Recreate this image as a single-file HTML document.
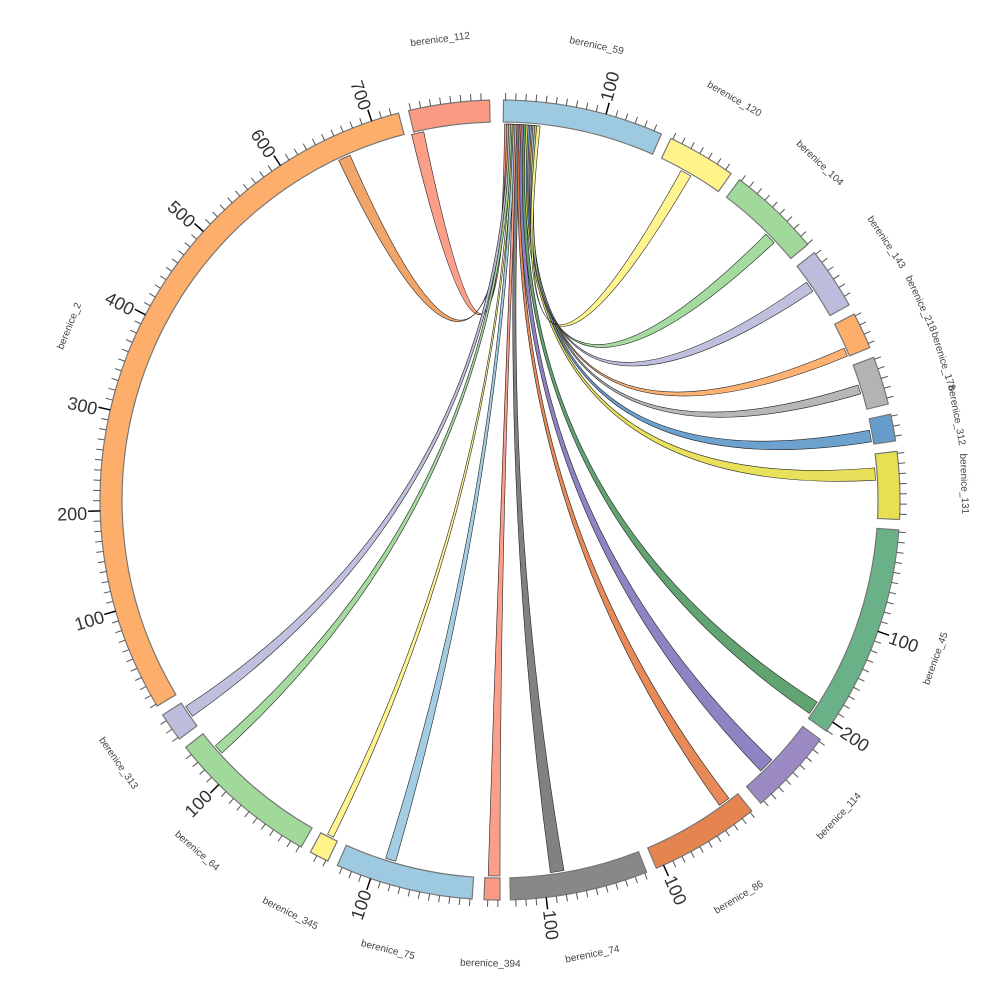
<!DOCTYPE html>
<html><head><meta charset="utf-8"><style>
html,body{margin:0;padding:0;background:#fff;}
svg{display:block;font-family:"Liberation Sans","DejaVu Sans",sans-serif;}
.sl{font-size:10px;fill:#444;text-anchor:middle;dominant-baseline:central;}
.nl{font-size:18px;fill:#333;text-anchor:middle;dominant-baseline:central;}
</style></head><body>
<svg id="s" width="1000" height="1000" viewBox="0 0 1000 1000" xmlns="http://www.w3.org/2000/svg">
<g id="rib"></g><g id="seg"></g><g id="tk"></g>
<g>
<text class="sl" transform="rotate(352.6 500 500) translate(500,36)">berenice_112</text>
<text class="sl" transform="rotate(12 500 500) translate(500,36)">berenice_59</text>
<text class="sl" transform="rotate(30.3 500 500) translate(500,36)">berenice_120</text>
<text class="sl" transform="rotate(43.5 500 500) translate(500,36)">berenice_104</text>
<text class="sl" transform="rotate(56.3 500 500) translate(500,36)">berenice_143</text>
<text class="sl" transform="rotate(65 500 500) translate(500,36)">berenice_218</text>
<text class="sl" transform="rotate(72.6 500 500) translate(500,36)">berenice_178</text>
<text class="sl" transform="rotate(79.5 500 500) translate(500,36)">berenice_312</text>
<text class="sl" transform="rotate(88 500 500) translate(500,36)">berenice_131</text>
<text class="sl" transform="rotate(110 500 500) translate(500,36) rotate(180)">berenice_45</text>
<text class="sl" transform="rotate(133 500 500) translate(500,36) rotate(180)">berenice_114</text>
<text class="sl" transform="rotate(149 500 500) translate(500,36) rotate(180)">berenice_86</text>
<text class="sl" transform="rotate(168.5 500 500) translate(500,36) rotate(180)">berenice_74</text>
<text class="sl" transform="rotate(181.2 500 500) translate(500,36) rotate(180)">berenice_394</text>
<text class="sl" transform="rotate(194 500 500) translate(500,36) rotate(180)">berenice_75</text>
<text class="sl" transform="rotate(206.9 500 500) translate(500,36) rotate(180)">berenice_345</text>
<text class="sl" transform="rotate(220.8 500 500) translate(500,36) rotate(180)">berenice_64</text>
<text class="sl" transform="rotate(235.4 500 500) translate(500,36) rotate(180)">berenice_313</text>
<text class="sl" transform="rotate(292 500 500) translate(500,36)">berenice_2</text>

<text class="nl" transform="rotate(253.6 500 500) translate(500,72) rotate(90)">100</text>
<text class="nl" transform="rotate(268.1 500 500) translate(500,72) rotate(90)">200</text>
<text class="nl" transform="rotate(282.7 500 500) translate(500,72) rotate(90)">300</text>
<text class="nl" transform="rotate(297.3 500 500) translate(500,72) rotate(90)">400</text>
<text class="nl" transform="rotate(311.9 500 500) translate(500,72) rotate(90)">500</text>
<text class="nl" transform="rotate(326.4 500 500) translate(500,72) rotate(90)">600</text>
<text class="nl" transform="rotate(341 500 500) translate(500,72) rotate(90)">700</text>
<text class="nl" transform="rotate(14.9 500 500) translate(500,72) rotate(-90)">100</text>
<text class="nl" transform="rotate(109.4 500 500) translate(500,72) rotate(-90)">100</text>
<text class="nl" transform="rotate(124 500 500) translate(500,72) rotate(-90)">200</text>
<text class="nl" transform="rotate(155.8 500 500) translate(500,72) rotate(-90)">100</text>
<text class="nl" transform="rotate(173.2 500 500) translate(500,72) rotate(-90)">100</text>
<text class="nl" transform="rotate(198.9 500 500) translate(500,72) rotate(90)">100</text>
<text class="nl" transform="rotate(224.8 500 500) translate(500,72) rotate(90)">100</text>
</g>
</svg>
<script>
(function(){
var NS="http://www.w3.org/2000/svg";
function pt(r,a){a=a*Math.PI/180;return [(500+r*Math.sin(a)).toFixed(2),(500-r*Math.cos(a)).toFixed(2)];}
function el(p,tag,at){var e=document.createElementNS(NS,tag);for(var k in at)e.setAttribute(k,at[k]);document.getElementById(p).appendChild(e);return e;}
var segs=[
["59",0.5,23.8,"#9ecae1"],["120",25.3,35.3,"#fff38a"],["104",36.8,50.3,"#a1d99b"],["143",51.8,60.8,"#bcbddc"],
["218",62.3,67.6,"#fdae6b"],["178",69.1,76.1,"#b3b3b3"],["312",77.6,81.5,"#659ccb"],["131",83,92.8,"#e8df52"],
["45",94.3,125.3,"#6ab187"],["114",126.8,139.3,"#9b8ac4"],["86",141,157,"#e6844f"],["74",158.5,178.5,"#888888"],
["394",180,182.3,"#fa9a85"],["75",184,204,"#9ecae1"],["345",205.5,208.3,"#fff38a"],["64",209.8,231.8,"#a1d99b"],
["313",233.3,237.5,"#bcbddc"],["2",239,345.3,"#fdae6b"],["112",346.8,358.5,"#fb9a83"]];
var tgt={"112":[346.4,348.3],"2":[334.6,336.5],"313":[234.9,236.7],"64":[227.7,229.2],"345":[206.3,207.3],"75":[196.1,197.7],
"394":[180,181.8],"74":[170.2,172.3],"86":[142.5,144.3],"114":[133.7,136.1],"45":[122.5,124.6],"131":[85.1,87],
"312":[79.3,81.1],"178":[72.2,73.6],"218":[66.2,67.5],"143":[54.6,56.3],"104":[45,46.8],"120":[28.8,30.5]};
var col={};segs.forEach(function(s){col[s[0]]=s[3];});
col["45"]="#5a9e6a";col["74"]="#7a7a7a";col["114"]="#8a7cc0";col["2"]="#f0a060";
var order=["112","2","313","64","345","75","394","74","86","114","45","131","312","178","218","143","104","120"];
var a=0.7, R=376;
order.forEach(function(k){
 var t=tgt[k],w=(t[1]-t[0])*0.3;var s1=a,s2=a+w;a+=w*0.55;
 var p1=pt(R,s1),p2=pt(R,s2),q1=pt(R,t[0]),q2=pt(R,t[1]);
 var d="M"+p1+" A"+R+" "+R+" 0 0 1 "+p2+" Q500 500 "+q1+" A"+R+" "+R+" 0 0 1 "+q2+" Q500 500 "+p1+" Z";
 el("rib","path",{d:d,fill:col[k],stroke:"#222","stroke-width":0.6,"fill-opacity":0.95});
});
segs.forEach(function(s){
 var a1=s[1],a2=s[2],lg=(a2-a1)>180?1:0;
 var o1=pt(400,a1),o2=pt(400,a2),i1=pt(378,a1),i2=pt(378,a2);
 el("seg","path",{d:"M"+o1+" A400 400 0 "+lg+" 1 "+o2+" L"+i2+" A378 378 0 "+lg+" 0 "+i1+" Z",fill:s[3],stroke:"#777","stroke-width":1.2});
 var n=0;
 for(var t=a1+0.3;t<a2;t+=1.457){
  var maj=(n%10==0&&n>0);var q1=pt(400,t),q2=pt(maj?412:407,t);
  el("tk","line",{x1:q1[0],y1:q1[1],x2:q2[0],y2:q2[1],stroke:maj?"#000":"#555","stroke-width":maj?1.5:1});
  n++;
 }
});
})();
</script>
</body></html>
